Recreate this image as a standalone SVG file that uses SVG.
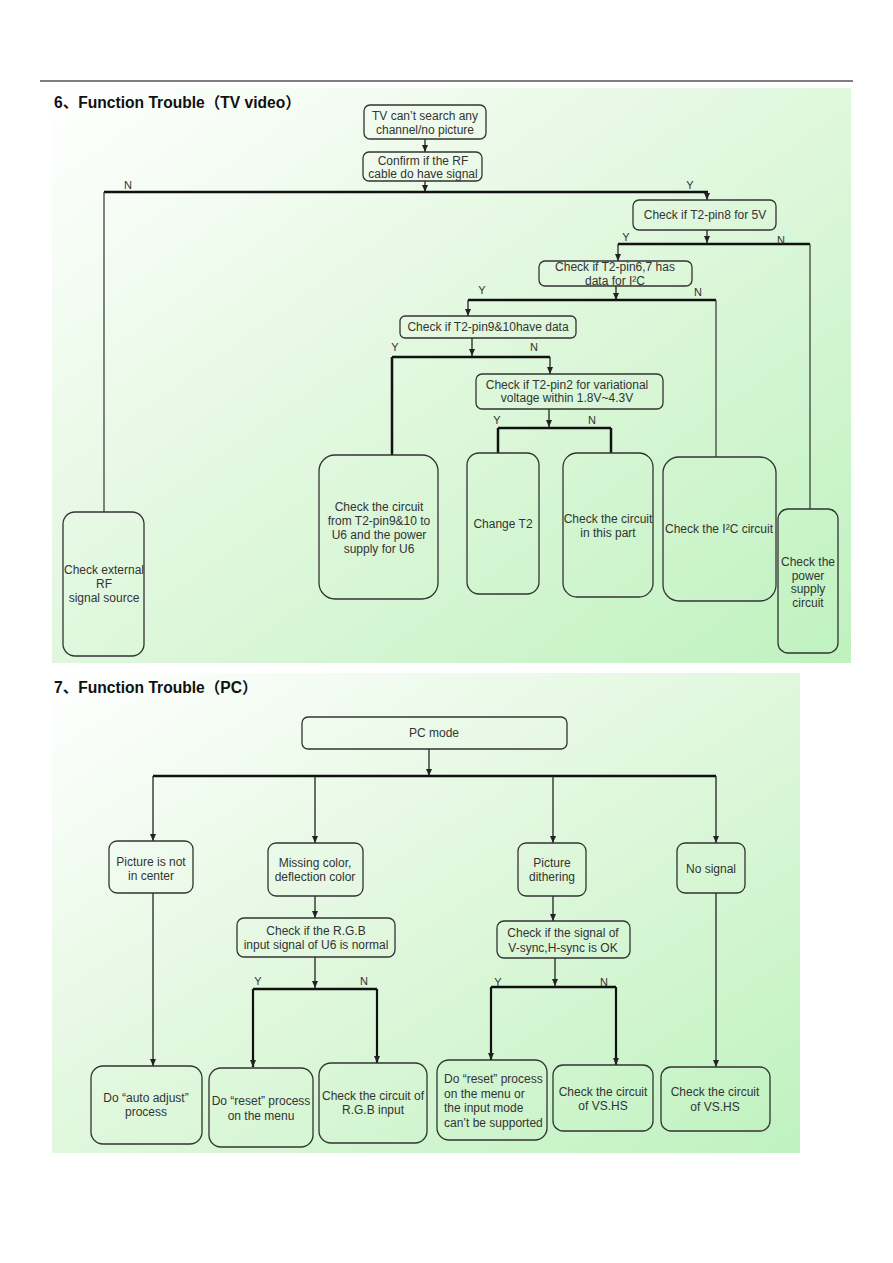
<svg xmlns="http://www.w3.org/2000/svg" width="893" height="1263" viewBox="0 0 893 1263">
<defs>
<linearGradient id="bg" x1="0" y1="0" x2="1" y2="1">
<stop offset="0" stop-color="#ffffff"/>
<stop offset="0.45" stop-color="#e3f8e0"/>
<stop offset="1" stop-color="#bff2bf"/>
</linearGradient>
<marker id="ah" markerUnits="userSpaceOnUse" markerWidth="8" markerHeight="8" refX="7" refY="4" orient="auto">
<path d="M0,1 L7,4 L0,7 Z" fill="#222"/>
</marker>
</defs>
<style>
.box{fill:none;stroke:#333;stroke-width:1.3}
.t{font-family:"Liberation Sans",Arial,sans-serif;font-size:12px;fill:#333;text-anchor:middle}
.tl{font-family:"Liberation Sans",Arial,sans-serif;font-size:12px;fill:#333}
.lab{font-family:"Liberation Sans",Arial,sans-serif;font-size:11px;fill:#333;text-anchor:middle}
.title{font-family:"Liberation Sans","Noto Sans CJK SC",sans-serif;font-size:15.6px;font-weight:bold;fill:#111}
.thin{fill:none;stroke:#333;stroke-width:1.2}
.thick{fill:none;stroke:#111;stroke-width:2.5}
.arr{fill:none;stroke:#222;stroke-width:1.3;marker-end:url(#ah)}
.arrk{fill:none;stroke:#111;stroke-width:2.2;marker-end:url(#ah)}
</style>
<rect x="0" y="0" width="893" height="1263" fill="#ffffff"/>
<line x1="40" y1="81" x2="853" y2="81" stroke="#000" stroke-width="1.2"/>
<rect x="52" y="88" width="799" height="575" fill="url(#bg)"/>
<rect x="52" y="673" width="748" height="480" fill="url(#bg)"/>
<text class="title" x="54" y="108">6、Function Trouble（TV video）</text>
<text class="title" x="54" y="693">7、Function Trouble（PC）</text>

<g id="connectors">
<path class="arr" d="M425,139 V152"/>
<path class="arr" d="M425,181 V192"/>
<path class="thick" d="M104,192 H708"/>
<path class="thin" d="M104,192 V512"/>
<path class="arr" d="M707,192 V200"/>
<path class="arr" d="M707,230 V243"/>
<path class="thick" d="M618,244 H810"/>
<path class="arr" d="M618,244 V261"/>
<path class="thin" d="M810,244 V509"/>
<path class="arr" d="M616,286 V300"/>
<path class="thick" d="M468,300 H716"/>
<path class="arr" d="M468,300 V316"/>
<path class="thin" d="M716,300 V457"/>
<path class="arr" d="M472,338 V356"/>
<path class="thick" d="M392,357 H550"/>
<path class="thick" d="M392,357 V455"/>
<path class="arr" d="M550,357 V374"/>
<path class="arr" d="M549,409 V427"/>
<path class="thick" d="M498,428 H611"/>
<path class="thick" d="M498,428 V453"/>
<path class="thick" d="M611,428 V453"/>

<path class="arr" d="M429,749 V776"/>
<path class="thick" d="M153,776 H716"/>
<path class="arr" d="M153,776 V841"/>
<path class="arr" d="M315,776 V843"/>
<path class="arr" d="M553,776 V843"/>
<path class="arr" d="M716,776 V843"/>
<path class="arr" d="M153,893 V1066"/>
<path class="arr" d="M315,896 V918"/>
<path class="arr" d="M315,957 V988"/>
<path class="thick" d="M253,989 H377"/>
<path class="arrk" d="M253,989 V1067"/>
<path class="arrk" d="M377,989 V1063"/>
<path class="arr" d="M553,896 V921"/>
<path class="arr" d="M555,958 V986"/>
<path class="thick" d="M491,987 H616"/>
<path class="arrk" d="M491,987 V1060"/>
<path class="arrk" d="M616,987 V1065"/>
<path class="arr" d="M716,893 V1067"/>

<text class="lab" x="128" y="189">N</text>
<text class="lab" x="690" y="189">Y</text>
<text class="lab" x="626" y="241">Y</text>
<text class="lab" x="781" y="244">N</text>
<text class="lab" x="482" y="294">Y</text>
<text class="lab" x="698" y="296">N</text>
<text class="lab" x="395" y="351">Y</text>
<text class="lab" x="534" y="351">N</text>
<text class="lab" x="497" y="424">Y</text>
<text class="lab" x="592" y="424">N</text>
<text class="lab" x="258" y="985">Y</text>
<text class="lab" x="364" y="985">N</text>
<text class="lab" x="498" y="986">Y</text>
<text class="lab" x="604" y="986">N</text>
</g>

<g id="n1"><rect class="box" x="364" y="105" width="122" height="34" rx="6"/><text class="t" x="425" y="120">TV can’t search any</text><text class="t" x="425" y="134">channel/no picture</text></g>
<g id="n2"><rect class="box" x="363" y="152" width="119" height="29" rx="6"/><text class="t" x="423" y="165">Confirm if the RF</text><text class="t" x="423" y="178">cable do have signal</text></g>
<g id="n3"><rect class="box" x="633" y="200" width="143" height="30" rx="6"/><text class="t" x="705" y="219">Check if T2-pin8 for 5V</text></g>
<g id="n4"><rect class="box" x="539" y="261" width="153" height="25" rx="6"/><text class="t" x="615" y="271">Check if T2-pin6,7 has</text><text class="t" x="615" y="285">data for I²C</text></g>
<g id="n5"><rect class="box" x="400" y="316" width="176" height="22" rx="5"/><text class="t" x="488" y="331">Check if T2-pin9&amp;10have data</text></g>
<g id="n6"><rect class="box" x="476" y="374" width="187" height="35" rx="6"/><text class="t" x="567" y="389">Check if T2-pin2 for variational</text><text class="t" x="567" y="402">voltage within 1.8V~4.3V</text></g>
<g id="n7"><rect class="box" x="63" y="512" width="81" height="144" rx="12"/><text class="t" x="104" y="574">Check external</text><text class="t" x="104" y="588">RF</text><text class="t" x="104" y="602">signal source</text></g>
<g id="n8"><rect class="box" x="319" y="455" width="119" height="144" rx="16"/><text class="t" x="379" y="511">Check the circuit</text><text class="t" x="379" y="525">from T2-pin9&amp;10 to</text><text class="t" x="379" y="539">U6 and the power</text><text class="t" x="379" y="553">supply for U6</text></g>
<g id="n9"><rect class="box" x="467" y="453" width="72" height="141" rx="12"/><text class="t" x="503" y="528">Change T2</text></g>
<g id="n10"><rect class="box" x="563" y="453" width="90" height="144" rx="14"/><text class="t" x="608" y="523">Check the circuit</text><text class="t" x="608" y="537">in this part</text></g>
<g id="n11"><rect class="box" x="663" y="457" width="113" height="144" rx="16"/><text class="t" x="719" y="533">Check the I²C circuit</text></g>
<g id="n12"><rect class="box" x="778" y="509" width="60" height="144" rx="10"/><text class="t" x="808" y="566">Check the</text><text class="t" x="808" y="580">power</text><text class="t" x="808" y="593">supply</text><text class="t" x="808" y="607">circuit</text></g>

<g id="p1"><rect class="box" x="302" y="717" width="265" height="32" rx="6"/><text class="t" x="434" y="737">PC mode</text></g>
<g id="p2"><rect class="box" x="109" y="841" width="84" height="52" rx="8"/><text class="t" x="151" y="866">Picture is not</text><text class="t" x="151" y="880">in center</text></g>
<g id="p3"><rect class="box" x="268" y="843" width="95" height="53" rx="8"/><text class="t" x="315" y="867">Missing color,</text><text class="t" x="315" y="881">deflection color</text></g>
<g id="p4"><rect class="box" x="518" y="843" width="68" height="53" rx="8"/><text class="t" x="552" y="867">Picture</text><text class="t" x="552" y="881">dithering</text></g>
<g id="p5"><rect class="box" x="677" y="843" width="68" height="50" rx="8"/><text class="t" x="711" y="873">No signal</text></g>
<g id="p6"><rect class="box" x="237" y="918" width="158" height="39" rx="7"/><text class="t" x="316" y="935">Check if the R.G.B</text><text class="t" x="316" y="949">input signal of U6 is normal</text></g>
<g id="p7"><rect class="box" x="497" y="921" width="133" height="37" rx="7"/><text class="t" x="563" y="937">Check if the signal of</text><text class="t" x="563" y="952">V-sync,H-sync is OK</text></g>
<g id="p8"><rect class="box" x="91" y="1066" width="111" height="78" rx="12"/><text class="t" x="146" y="1102">Do “auto adjust”</text><text class="t" x="146" y="1116">process</text></g>
<g id="p9"><rect class="box" x="209" y="1068" width="104" height="79" rx="12"/><text class="t" x="261" y="1105">Do “reset” process</text><text class="t" x="261" y="1120">on the menu</text></g>
<g id="p10"><rect class="box" x="319" y="1063" width="108" height="80" rx="12"/><text class="t" x="373" y="1100">Check the circuit of</text><text class="t" x="373" y="1114">R.G.B input</text></g>
<g id="p11"><rect class="box" x="437" y="1060" width="110" height="80" rx="12"/><text class="tl" x="444" y="1083">Do “reset” process</text><text class="tl" x="444" y="1098">on the menu or</text><text class="tl" x="444" y="1112">the input mode</text><text class="tl" x="444" y="1127">can’t be supported</text></g>
<g id="p12"><rect class="box" x="553" y="1065" width="100" height="66" rx="10"/><text class="t" x="603" y="1096">Check the circuit</text><text class="t" x="603" y="1110">of VS.HS</text></g>
<g id="p13"><rect class="box" x="661" y="1067" width="109" height="64" rx="10"/><text class="t" x="715" y="1096">Check the circuit</text><text class="t" x="715" y="1111">of VS.HS</text></g>
</svg>
